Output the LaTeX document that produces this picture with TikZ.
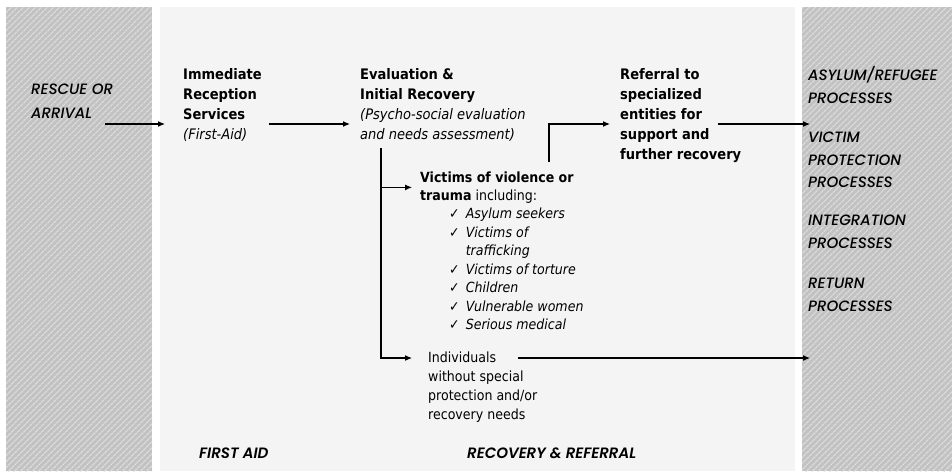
\documentclass[tikz,border=0pt]{standalone}
\usepackage{fontspec}
\setmainfont{DejaVu Sans Condensed}
\newfontfamily\capsfont{Poppins}[UprightFont={* Medium}, ItalicFont={* Medium Italic},
  BoldFont={* SemiBold}, BoldItalicFont={* SemiBold Italic}]
\definecolor{panelgray}{RGB}{244,244,244}
\definecolor{hatchgray}{RGB}{194,194,194}
\definecolor{hatchline}{RGB}{220,220,220}
\usetikzlibrary{arrows.meta, patterns.meta}

\begin{document}
\begin{tikzpicture}[x=1pt, y=-1pt,
  txt/.style={inner sep=0pt, align=left, anchor=base west,
    font=\fontsize{14.5}{20}\selectfont},
  small/.style={txt, font=\fontsize{14}{18.5}\selectfont},
  caps/.style={inner sep=0pt, align=left, anchor=base west,
    font=\capsfont\itshape\fontsize{15}{22.5}\selectfont},
  hatch/.style={pattern={Lines[angle=45, distance=4pt, line width=1.3pt]},
    pattern color=hatchline},
  arw/.style={-{Latex[length=7pt, width=6pt]}, line width=1.1pt},
]
\useasboundingbox (0,0) rectangle (952,471);

% Panels
\fill[hatchgray] (6,7) rectangle (152,471);
\fill[hatch] (6,7) rectangle (152,471);
\fill[panelgray] (160,7) rectangle (795,471);
\fill[hatchgray] (802,7) rectangle (952,471);
\fill[hatch] (802,7) rectangle (952,471);

% Stages (base = last line)
\node[caps, font=\capsfont\itshape\fontsize{15}{24}\selectfont] (rescue) at (31,118) {RESCUE OR\\ARRIVAL};
\node[txt] (immed) at (183,139.5) {\textbf{Immediate}\\\textbf{Reception}\\\textbf{Services}\\\textit{(First-Aid)}};
\node[txt] (eval) at (360,139.5) {\textbf{Evaluation \&}\\\textbf{Initial Recovery}\\\textit{(Psycho-social evaluation}\\\textit{and needs assessment)}};
\node[txt] (referral) at (620,159.5) {\textbf{Referral to}\\\textbf{specialized}\\\textbf{entities for}\\\textbf{support and}\\\textbf{further recovery}};

% Groups
\node[small] (victims) at (420,200.5) {\textbf{Victims of violence or}\\\textbf{trauma} including:};
\node[small] (checks) at (449,218.5) {%
  \begin{tabular}[t]{@{}l@{\hspace{6pt}}l@{}}
  ✓ & \textit{Asylum seekers}\\
  ✓ & \textit{Victims of}\\
    & \textit{trafficking}\\
  ✓ & \textit{Victims of torture}\\
  ✓ & \textit{Children}\\
  ✓ & \textit{Vulnerable women}\\
  ✓ & \textit{Serious medical}
  \end{tabular}};
\node[small, font=\fontsize{14}{19}\selectfont] (indiv) at (428,419) {Individuals\\without special\\protection and/or\\recovery needs};

% Outcomes
\node[caps] (procs) at (808,311) {ASYLUM/REFUGEE\\PROCESSES\\[17pt]VICTIM\\PROTECTION\\PROCESSES\\[15.5pt]INTEGRATION\\PROCESSES\\[18pt]RETURN\\PROCESSES};

% Phase labels
\node[caps, font=\capsfont\itshape\bfseries\fontsize{15}{20}\selectfont] (firstaid) at (199,458) {FIRST AID};
\node[caps, font=\capsfont\itshape\bfseries\fontsize{15}{20}\selectfont] (recref) at (467,458) {RECOVERY \& REFERRAL};

% Connectors
\coordinate (inA) at (105,124);
\coordinate (split) at (381,148);
\coordinate (up) at (549,162);
\coordinate (refout) at (718,124);
\coordinate (indout) at (518,358);
\draw[arw] (inA) -- ([xshift=-18pt]immed.west |- inA);
\draw[arw] ([xshift=7pt]immed.east |- inA) -- ([xshift=-10pt]eval.west |- inA);
\draw[arw] (split) |- ([xshift=-8pt]victims.west);
\draw[arw] (split) |- ([xshift=-16pt]indiv.west |- indout);
\draw[arw] (up) |- ([xshift=-10pt]referral.west |- inA);
\draw[arw] (refout) -- ([xshift=2pt]procs.west |- refout);
\draw[arw] (indout) -- ([xshift=2pt]procs.west |- indout);
\end{tikzpicture}
\end{document}
